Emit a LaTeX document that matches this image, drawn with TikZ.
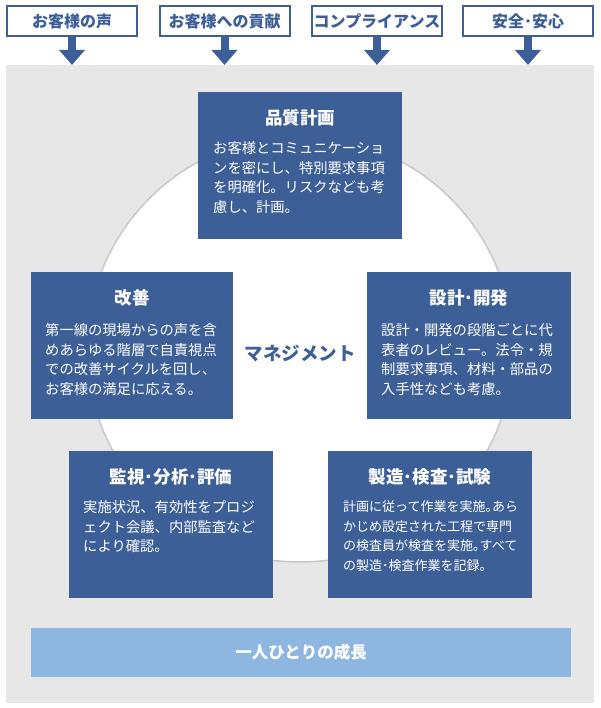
\documentclass[tikz,border=0pt]{standalone}
\usepackage{fontspec}
\setmainfont{Noto Sans CJK JP}
\usetikzlibrary{calc,arrows.meta}

\definecolor{mainblue}{HTML}{3D5F97}
\definecolor{bggray}{HTML}{E7E7E7}
\definecolor{ringgray}{HTML}{C8C8C8}
\definecolor{barblue}{HTML}{8DB7E0}

\tikzset{
 topbox/.style={draw=mainblue, line width=2pt, fill=white, minimum width=130pt, minimum height=30pt, inner sep=0pt, text=mainblue, font=\bfseries\fontsize{16}{18}\selectfont},
 bluebox/.style={fill=mainblue, minimum width=204pt, minimum height=147pt, inner sep=0pt},
 boxtitle/.style={text=white, inner sep=0pt, font=\bfseries\fontsize{17.5}{20}\selectfont},
 boxtext/.style={text=white, inner sep=0pt, anchor=north west, align=left, font=\fontsize{14.3}{19.6}\selectfont},
 downarrow/.style={draw=mainblue, line width=8pt, -{Triangle[width=25pt,length=15pt]}}
}

\begin{document}
\begin{tikzpicture}[x=1pt,y=-1pt]
 \useasboundingbox (0,0) rectangle (600,708);
 \coordinate (bgtop) at (0,65);
 \coordinate (O) at (300,349);

\fill[bggray] (6,65) rectangle (594,703);
\draw[fill=white, draw=ringgray, line width=1.5pt] (O) circle [radius=213pt];

\node[topbox] (voice) at (72,21) {お客様の声};
\node[topbox] (contrib) at (224.5,21) {お客様への貢献};
\node[topbox] (comply) at (377,21) {コンプライアンス};
\node[topbox] (safety) at (528,21) {安全･安心};

\draw[downarrow] (voice.south) -- (voice |- bgtop);
\draw[downarrow] (contrib.south) -- (contrib |- bgtop);
\draw[downarrow] (comply.south) -- (comply |- bgtop);
\draw[downarrow] (safety.south) -- (safety |- bgtop);

\node[bluebox] (plan) at (300,166) {};
\node[bluebox, minimum width=202pt] (kaizen) at (132,345.5) {};
\node[bluebox] (design) at (469,345.5) {};
\node[bluebox] (monitor) at (171,524.5) {};
\node[bluebox] (make) at (430,524.5) {};

\node[boxtitle] (plan-title) at (300,118) {品質計画};
\node[boxtitle] (kaizen-title) at (132,298) {改善};
\node[boxtitle] (design-title) at (469,298) {設計･開発};
\node[boxtitle] (monitor-title) at (171,477) {監視･分析･評価};
\node[boxtitle] (make-title) at (430,477) {製造･検査･試験};

\node[boxtext] (plan-text) at (213,141.5) {お客様とコミュニケーショ\\ンを密にし、特別要求事項\\を明確化。リスクなども考\\慮し、計画。};
\node[boxtext] (kaizen-text) at (45,323.5) {第一線の現場からの声を含\\めあらゆる階層で自責視点\\での改善サイクルを回し、\\お客様の満足に応える。};
\node[boxtext] (design-text) at (381,323.5) {設計・開発の段階ごとに代\\表者のレビュー。法令・規\\制要求事項、材料・部品の\\入手性なども考慮。};
\node[boxtext] (monitor-text) at (83,500.5) {実施状況、有効性をプロジ\\ェクト会議、内部監査など\\により確認。};
\node[boxtext, font=\fontsize{13}{19.6}\selectfont] (make-text) at (343,500.5) {計画に従って作業を実施｡あら\\かじめ設定された工程で専門\\の検査員が検査を実施｡すべて\\の製造･検査作業を記録。};

\node[text=mainblue, font=\bfseries\fontsize{18.5}{22}\selectfont] (mgmt) at (300,354) {マネジメント};

\node[fill=barblue, minimum width=540pt, minimum height=49pt, inner sep=0pt, text=white, font=\bfseries\fontsize{16.5}{20}\selectfont] (growth) at (301,652.5) {一人ひとりの成長};
  \end{tikzpicture}
\end{document}
